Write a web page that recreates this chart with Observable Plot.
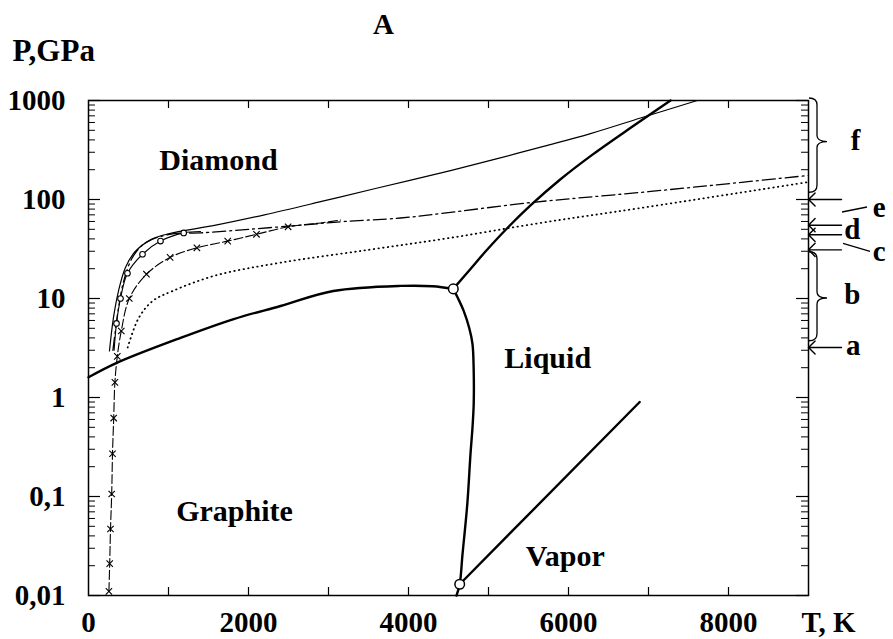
<!DOCTYPE html>
<html><head><meta charset="utf-8">
<script src="https://cdn.jsdelivr.net/npm/d3@7"></script>
<script src="https://cdn.jsdelivr.net/npm/@observablehq/plot@0.6"></script>
<style>body{margin:0;background:#fff}</style>
</head><body><div id="chart"></div>
<script>
// ---- data (T in K, P in GPa) ----
const xTickValues = [1000,2000,3000,4000,5000,6000,7000,8000];
const xTickLabels = [0,2000,4000,6000,8000];
const yTickLabels = [0.01,0.1,1,10,100,1000];

const graphiteDiamond = [[0,1.6],[360,2.25],[1150,4.0],[1815,6.2],[2400,8.4],[3060,11.9],[3900,13.4],[4300,13.3],[4560,12.5]];
const graphiteMelting = [[4560,12.5],[4620,10],[4690,7.5],[4760,5],[4800,3.47],[4815,1.86],[4815,0.86],[4800,0.5],[4775,0.27],[4735,0.084],[4675,0.026],[4640,0.013],[4600,0.01]];
const diamondMelting = [[4560,12.5],[4775,19.9],[4962,29.8],[5212,49.2],[5525,87],[5900,160],[6300,284],[6800,546],[7275,1000]];
const vaporLine = [[4640,0.013],[6890,0.9]];
const triplePoints = [[4560,12.5],[4640,0.013]];

const curveSolid = [[262,2.95],[312,6.4],[375,11.9],[462,20.6],[587,30],[800,40],[1000,45],[1590,55],[2200,70],[2900,95],[3600,130],[4525,196],[5110,259],[5700,346],[6275,463],[6900,665],[7610,1000]];
const curveDashDot = [[305,3.0],[340,5],[375,8],[440,15],[550,26],[712,36.6],[1050,45],[1400,46],[2000,50],[2650,55],[3200,60],[3900,65],[4400,72],[5525,93],[7000,120],[9000,175]];
const curveCircles = [[320,3.0],[350,5.6],[400,10],[487,18],[675,28],[900,38],[1190,46],[1400,47.5]];
const circleMarkers = [[350,5.6],[400,10],[487,18],[675,28],[900,38],[1190,46]];
const curveCrosses = [[255,0.011],[265,0.021],[275,0.047],[290,0.106],[300,0.27],[315,0.62],[330,1.42],[360,2.6],[410,4.7],[510,10],[725,17.6],[1020,26],[1355,32.5],[1740,38],[2100,44.5],[2495,53],[2900,58],[3150,62]];
const crossMarkers = [[255,0.011],[265,0.021],[275,0.047],[290,0.106],[300,0.27],[315,0.62],[330,1.42],[360,2.6],[410,4.7],[510,10],[725,17.6],[1020,26],[1355,32.5],[1740,38],[2100,44.5],[2495,53]];
const curveDotted = [[490,3.2],[625,6.3],[800,9.4],[1050,11.9],[1590,17.1],[2400,23],[3500,31],[4525,41],[5650,58],[6900,82],[9000,150]];

const regionLabels = [
  {text:"Diamond", t:1625, p:250},
  {text:"Graphite", t:1825, p:0.071},
  {text:"Liquid", t:5740, p:2.5},
  {text:"Vapor", t:5960, p:0.025}
];
const arrowPressures = [100, 55, 44, 31, 3.2];
const labelsNear = [{text:"f", p:393},{text:"d", p:49.5},{text:"b", p:11},{text:"a", p:3.3}];
const labelsFar = [{text:"e", p:82},{text:"c", p:30}];
const braceRanges = [{top:1000, bottom:117, tip:380},{top:28, bottom:3.7, tip:10}];

// minor log ticks
const yMinor = [];
for (const d of [0.01,0.1,1,10,100]) for (let k=2;k<=9;k++) yMinor.push(+(d*k).toPrecision(3));

const pts = a => a.map(([t,p]) => ({t,p}));
const fmt = v => String(v).replace(".", ",");
const FONT = "Liberation Serif, Times New Roman, serif";

const W = 893, H = 639, mL = 88, mR = 85, mT = 100, mB = 44;
const fw = W - mL - mR, fh = H - mT - mB;

function braceMark(index, scales, values, dims) {
  const g = d3.create("svg:g").attr("fill","none").attr("stroke","black").attr("stroke-width",1.3);
  const xr = dims.width - dims.marginRight;
  for (const b of braceRanges) {
    const y0 = scales.y(b.top) - 2, y1 = scales.y(b.bottom), ym = scales.y(b.tip);
    const x0 = xr + 1, x1 = xr + 9, x2 = xr + 19;
    g.append("path").attr("d",
      `M${x0},${y0} Q${x1},${y0} ${x1},${y0+7} L${x1},${ym-6} Q${x1},${ym} ${x2},${ym} Q${x1},${ym} ${x1},${ym+6} L${x1},${y1-7} Q${x1},${y1} ${x0},${y1}`);
  }
  // leader strokes for e and c
  const ye = scales.y(100), yc = scales.y(31);
  g.append("path").attr("d", `M${xr+34},${ye+13} L${xr+59},${ye+8}`);
  g.append("path").attr("d", `M${xr+35},${yc-6} L${xr+62},${yc+2}`);
  return g.node();
}

const thick = {x:"t", y:"p", stroke:"black", strokeWidth:2.4, curve:"catmull-rom"};
const thin = {x:"t", y:"p", stroke:"black", strokeWidth:1.2, curve:"catmull-rom"};
const txt = {fontWeight: "bold", fill: "black", lineAnchor: "middle"};

const chart = Plot.plot({
  width: W, height: H,
  marginLeft: mL, marginRight: mR, marginTop: mT, marginBottom: mB,
  style: {fontFamily: FONT, fontWeight: "bold", fontSize: "28px", background: "white", color: "black"},
  x: {domain: [0, 9000], axis: null},
  y: {type: "log", domain: [0.01, 1000], axis: null},
  marks: [
    Plot.frame({stroke: "black", strokeWidth: 1.5}),
    // inward ticks
    Plot.tickY(yTickLabels, {y: d => d, insetRight: fw - 12, stroke: "black", strokeWidth: 1.2}),
    Plot.tickY(yMinor, {y: d => d, insetRight: fw - 7, stroke: "black", strokeWidth: 1}),
    Plot.tickY(yTickLabels, {y: d => d, insetLeft: fw - 12, stroke: "black", strokeWidth: 1.2}),
    Plot.tickY(yMinor, {y: d => d, insetLeft: fw - 7, stroke: "black", strokeWidth: 1}),
    Plot.tickX(xTickValues, {x: d => d, insetTop: fh - 8, stroke: "black", strokeWidth: 1.2}),
    Plot.tickX(xTickValues, {x: d => d, insetBottom: fh - 8, stroke: "black", strokeWidth: 1.2}),
    Plot.axisY({ticks: yTickLabels, label: null, tickSize: 0, tickPadding: 23, tickFormat: fmt, fontSize: 29, fontWeight: "bold"}),
    Plot.axisX({ticks: xTickLabels, label: null, tickSize: 0, tickPadding: 16, tickFormat: d => String(d), fontSize: 29, fontWeight: "bold"}),
    // phase boundaries
    Plot.line(pts(graphiteDiamond), thick),
    Plot.line(pts(graphiteMelting), thick),
    Plot.line(pts(diamondMelting), thick),
    Plot.line(pts(vaporLine), {...thick, curve: "linear"}),
    // kinetic / experimental curves
    Plot.line(pts(curveSolid), thin),
    Plot.line(pts(curveDashDot), {...thin, strokeWidth: 1.3, strokeDasharray: "13,4,2,4"}),
    Plot.line(pts(curveCircles), {...thin, strokeWidth: 1.1}),
    Plot.dot(pts(circleMarkers), {x:"t", y:"p", r: 2.8, fill: "white", stroke: "black", strokeWidth: 1.1}),
    Plot.line(pts(curveCrosses), {...thin, strokeWidth: 1.1, strokeDasharray: "9,3"}),
    Plot.dot(pts(crossMarkers), {x:"t", y:"p", symbol: "times", r: 3, stroke: "black", strokeWidth: 1.1}),
    Plot.line(pts(curveDotted), {...thin, strokeWidth: 1.8, strokeDasharray: "0.5,4.2", strokeLinecap: "round"}),
    Plot.dot(pts(triplePoints), {x:"t", y:"p", r: 4.8, fill: "white", stroke: "black", strokeWidth: 1.5}),
    // region labels
    Plot.text(regionLabels, {x:"t", y:"p", text:"text", fontSize: 30, textAnchor: "middle", ...txt}),
    // right-side annotations
    Plot.vector(arrowPressures, {y: d => d, frameAnchor: "right", rotate: -90, length: 33, anchor: "end", shape: "arrow", stroke: "black", strokeWidth: 1.4}),
    braceMark,
    Plot.text(labelsNear, {y:"p", text:"text", frameAnchor: "right", dx: 52, textAnchor: "end", fontSize: 29, ...txt}),
    Plot.text(labelsFar, {y:"p", text:"text", frameAnchor: "right", dx: 77, textAnchor: "end", fontSize: 29, ...txt}),
    // titles
    Plot.text(["T, K"], {frameAnchor: "bottom-right", dx: 20, dy: 27, textAnchor: "middle", fontSize: 29, ...txt}),
    Plot.text(["P,GPa"], {frameAnchor: "top-left", dx: -76, dy: -49, textAnchor: "start", fontSize: 31, ...txt}),
    Plot.text(["A"], {frameAnchor: "top-left", dx: 295, dy: -76, textAnchor: "middle", fontSize: 29, ...txt})
  ]
});
document.getElementById("chart").appendChild(chart);
</script>
</body></html>
